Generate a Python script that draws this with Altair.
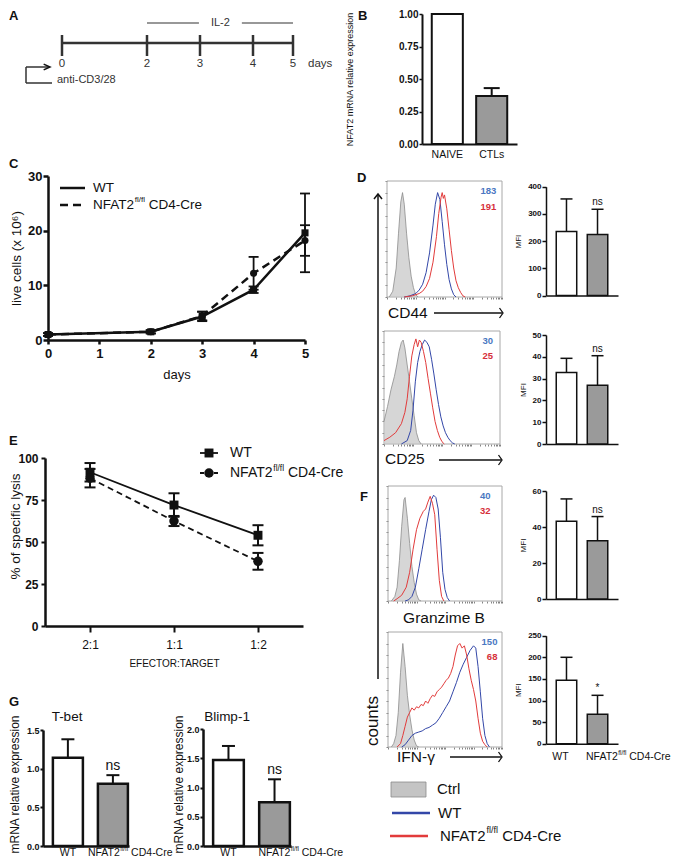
import math
import altair as alt
import pandas as pd

W, H = 664, 849
FONT = "Liberation Sans"
BLACK = "#111111"
GREY_BAR = "#9a9a9a"
BLUE = "#3347a8"
RED = "#e23b3b"
BLUE_TXT = "#4a78c2"
RED_TXT = "#d6303a"
CTRL_FILL = "#c4c4c4"
CTRL_LINE = "#8c8c8c"

# ---------------- data ----------------
timeline_days = [0, 2, 3, 4, 5]
il2_start = [2.0, 3.79]
il2_end = [2.98, 5.0]

b_cats = ["NAIVE", "CTLs"]
b_vals = [1.0, 0.37]
b_errs = [0.0, 0.06]

c_days = [0, 2, 3, 4, 5]
c_wt = [1.0, 1.5, 4.3, 9.2, 19.6]
c_wt_err = [0.25, 0.3, 0.85, 0.6, 7.2]
c_ko = [1.0, 1.5, 4.4, 12.2, 18.2]
c_ko_err = [0.25, 0.3, 0.8, 3.0, 2.8]

e_ratios = ["2:1", "1:1", "1:2"]
e_wt = [91.5, 72.0, 54.0]
e_wt_err = [5.5, 7.0, 6.0]
e_ko = [88.0, 62.5, 38.5]
e_ko_err = [5.5, 3.0, 5.0]

mfi_groups = ["WT", "KO"]
cd44_mfi = [235, 224]
cd44_err = [120, 93]
cd25_mfi = [32.8, 27.0]
cd25_err = [6.5, 13.5]
gzmb_mfi = [43.2, 32.3]
gzmb_err = [12.4, 13.5]
ifng_mfi = [147, 68]
ifng_err = [53, 44]
sig_ns = ["", "ns"]
sig_star = ["", "*"]

cd44_nums = [183, 191]
cd25_nums = [30, 25]
gzmb_nums = [40, 32]
ifng_nums = [150, 68]

cd44_ctrl = [(2,0),(5,5),(8,25),(10,55),(12,82),(13.5,90),(15,80),(17,55),(19,34),(21,18),(23,8),(25,2),(27,0)]
cd44_wt = [(15,0),(20,1),(25,3),(28,6),(31,11),(34,21),(37,38),(40,62),(42,80),(44,90),(46,84),(48,65),(50,45),(52,28),(54,15),(56,7),(58,2),(60,0)]
cd44_ko = [(15,0),(22,1),(28,3),(31,5),(34,9),(37,16),(40,30),(43,52),(45,72),(47,86),(48,90),(49,85),(50,88),(52,76),(54,58),(56,40),(58,25),(60,14),(62,8),(64,4),(66,1),(68,0)]

cd25_ctrl = [(0,20),(3,33),(6,48),(9,60),(11,70),(13,82),(15,90),(16.5,92),(18,85),(20,70),(22,55),(24,40),(26,25),(28,10),(30,3),(32,0)]
cd25_wt = [(15,0),(20,3),(23,12),(25,30),(27,55),(29,72),(31,82),(33,88),(35,92),(37,90),(39,86),(41,75),(43,62),(45,48),(47,35),(49,24),(51,16),(53,10),(55,6),(57,3),(59,1),(61,0)]
cd25_ko = [(0,3),(5,6),(10,10),(15,18),(18,28),(20,40),(22,60),(24,78),(26,88),(27.5,93),(29,86),(30.5,92),(32,90),(34,82),(36,72),(38,58),(40,45),(42,32),(44,20),(46,12),(48,6),(50,2),(52,0)]

gzmb_ctrl = [(3,0),(6,4),(8,12),(10,35),(12,65),(14,88),(15,90),(17,72),(19,50),(21,30),(23,16),(25,6),(27,1),(29,0)]
gzmb_wt = [(15,0),(18,1),(21,4),(24,12),(27,28),(30,45),(33,62),(36,78),(38,88),(40,92),(42,90),(44,80),(46,55),(48,25),(50,10),(52,3),(54,0)]
gzmb_ko = [(5,0),(8,2),(12,5),(16,12),(19,25),(22,45),(25,62),(28,72),(31,78),(33,80),(35,86),(37,91),(39,85),(41,75),(43,45),(45,18),(47,4),(49,0)]

ifng_ctrl = [(3,0),(5,3),(7,10),(9,30),(11,65),(13,90),(15,70),(17,45),(19,28),(21,15),(23,6),(25,1),(27,0)]
ifng_wt = [(12,0),(15,2),(18,6),(21,10),(24,12),(27,13),(30,14),(33,16),(36,17),(39,19),(42,21),(45,25),(48,30),(51,35),(54,40),(57,48),(60,56),(63,65),(66,72),(69,78),(72,84),(75,88),(77,86),(79,70),(81,48),(83,25),(85,10),(87,3),(89,0)]
ifng_ko = [(8,0),(11,3),(13,10),(15,18),(17,26),(19,30),(21,34),(23,32),(25,35),(27,34),(29,37),(31,36),(33,40),(35,38),(37,42),(39,45),(41,44),(43,48),(45,50),(47,52),(49,55),(51,58),(53,60),(55,64),(57,70),(59,80),(61,88),(63,90),(65,86),(67,88),(69,80),(71,68),(73,58),(75,50),(77,40),(79,25),(81,12),(83,5),(85,2),(87,0)]

g_groups = ["WT", "KO"]
g_tbet = [1.14, 0.806]
g_tbet_err = [0.24, 0.11]
g_blimp = [1.47, 0.75]
g_blimp_err = [0.24, 0.39]

# ---------------- helpers ----------------
ONE = pd.DataFrame({"k": [0]})
AW = {' ':278,'-':333,'/':278,':':278,'.':278,'A':667,'B':667,'C':722,'D':722,'E':667,'F':611,
      'G':778,'I':278,'L':556,'M':833,'N':722,'O':778,'R':722,'T':611,'W':944,'a':556,'b':556,
      'c':500,'d':556,'e':556,'f':278,'i':222,'l':222,'m':833,'n':556,'o':556,'p':556,'r':333,
      's':500,'t':278}


def tw(s, size):
    return sum(AW.get(ch, 556) for ch in s) * size / 1000.0


def txt(text, x, y, size, weight="normal", align="left", baseline="middle", angle=0, color=BLACK):
    return alt.Chart(ONE).mark_text(text=text, fontSize=size, fontWeight=weight, align=align,
                                    baseline=baseline, angle=angle, color=color, font=FONT
                                    ).encode(x=alt.value(x), y=alt.value(y))


def seg(x1, y1, x2, y2, width=1.5, color=BLACK, dash=None):
    kw = dict(color=color, strokeWidth=width)
    if dash:
        kw["strokeDash"] = dash
    return alt.Chart(ONE).mark_rule(**kw).encode(x=alt.value(x1), y=alt.value(y1),
                                                 x2=alt.value(x2), y2=alt.value(y2))


def head(x, y, path, size, width=1.5):
    return alt.Chart(ONE).mark_point(shape=path, size=size, filled=False, color=BLACK,
                                     strokeWidth=width, opacity=1).encode(x=alt.value(x), y=alt.value(y))


def sup_layers(chart, xenc, yenc, size, dx0=0.0, color=BLACK):
    ss = size * 0.6
    w1 = tw("NFAT2", size) - 1.0
    w2 = tw("fl/fl", ss)
    sp = tw(" ", size)
    out = []
    for text, fs, dx, dy in [("NFAT2", size, dx0, 0),
                             ("fl/fl", ss, dx0 + w1, -size * 0.38),
                             ("CD4-Cre", size, dx0 + w1 + w2 + sp, 0)]:
        out.append(chart.mark_text(text=text, fontSize=fs, dx=dx, dy=dy, align="left",
                                   baseline="middle", color=color, font=FONT).encode(x=xenc, y=yenc))
    return out


layers = []

# ---------------- panel letters ----------------
for letter, x, y in [("A", 1, 8), ("B", 350, 8), ("C", 1, 156), ("D", 349, 170),
                     ("E", 1, 433), ("F", 352, 489), ("G", 1, 694)]:
    layers.append(txt(letter, x, y, 13, weight="bold"))

# ---------------- panel A: timeline ----------------
days_scale = alt.Scale(domain=[0, 2, 4, 5], range=[54, 139, 245, 285], nice=False, zero=False)
df_days = pd.DataFrame({"day": timeline_days})
df_span = pd.DataFrame({"s": [timeline_days[0]], "e": [timeline_days[-1]]})
df_il2 = pd.DataFrame({"s": il2_start, "e": il2_end})
df_il2_lbl = pd.DataFrame({"pos": [(il2_end[0] + il2_start[1]) / 2], "lbl": ["IL-2"]})
panel_a = alt.layer(
    alt.Chart(df_span).mark_rule(color="#333333", strokeWidth=2.5).encode(
        x=alt.X("s:Q", scale=days_scale, axis=None), x2="e:Q", y=alt.value(35)),
    alt.Chart(df_days).mark_rule(color="#333333", strokeWidth=2.5).encode(
        x=alt.X("day:Q", scale=days_scale, axis=None), y=alt.value(27), y2=alt.value(48)),
    alt.Chart(df_days).mark_text(fontSize=11.5, baseline="middle", color="#333333").encode(
        x=alt.X("day:Q", scale=days_scale, axis=None), y=alt.value(56), text="day:Q"),
    alt.Chart(df_il2).mark_rule(color="#333333", strokeWidth=1.2).encode(
        x=alt.X("s:Q", scale=days_scale, axis=None), x2="e:Q", y=alt.value(15)),
    alt.Chart(df_il2_lbl).mark_text(fontSize=11, baseline="middle", color="#333333").encode(
        x=alt.X("pos:Q", scale=days_scale, axis=None), y=alt.value(15), text="lbl:N"),
)
layers.append(panel_a)
layers += [
    txt("days", 300, 56, 11.5, color="#333333"),
    seg(18, 59, 18, 75, 1.5, "#333333"),
    seg(18, 59, 41, 59, 1.5, "#333333"),
    seg(18, 75, 44, 75, 1.5, "#333333"),
    head(42, 59, "M-1,-0.45L0,0L-1,0.45", 160, 1.5),
    txt("anti-CD3/28", 49, 72, 11, color="#333333"),
]

# ---------------- panel B ----------------
df_b = pd.DataFrame({"cat": b_cats, "val": b_vals, "err": b_errs})
bbase = alt.Chart(df_b).transform_calculate(hi="datum.val + datum.err")
xb = alt.Scale(domain=b_cats, range=[414, 509], paddingInner=0.3, paddingOuter=0.22)
yb = alt.Scale(domain=[0, 1], range=[136, 6], nice=False, zero=True)
xb_axis = alt.Axis(orient="bottom", offset=136 - H, title=None, ticks=False, labelAngle=0,
                   labelFontSize=10.5, labelPadding=5, domainWidth=2)
yb_axis = alt.Axis(orient="left", offset=-414, values=[0, 0.25, 0.5, 0.75, 1.0], format=".2f",
                   title="NFAT2 mRNA relative expression", titleFontSize=9, titlePadding=44,
                   labelFontSize=10, labelFontWeight="bold", tickSize=3, labelPadding=1,
                   domainWidth=2, tickWidth=1.5)
BX = lambda: alt.X("cat:N", sort=b_cats, scale=xb, axis=xb_axis)
BY = lambda f: alt.Y(f, scale=yb, axis=yb_axis)
panel_b = alt.layer(
    bbase.mark_bar(stroke=BLACK, strokeWidth=2).encode(
        x=BX(), y=BY("val:Q"),
        fill=alt.condition(alt.datum.cat == "NAIVE", alt.value("white"), alt.value(GREY_BAR))),
    bbase.transform_filter(alt.datum.err > 0).mark_rule(color=BLACK, strokeWidth=2).encode(
        x=BX(), y=BY("val:Q"), y2="hi:Q"),
    bbase.transform_filter(alt.datum.err > 0).mark_tick(color=BLACK, thickness=2, size=16,
                                                        orient="horizontal", opacity=1).encode(
        x=BX(), y=BY("hi:Q")),
)
layers.append(panel_b)

# ---------------- panel C ----------------
df_c = pd.DataFrame({"day": c_days * 2, "val": c_wt + c_ko, "err": c_wt_err + c_ko_err,
                     "grp": ["WT"] * len(c_days) + ["KO"] * len(c_days)})
cbase = alt.Chart(df_c).transform_calculate(lo="datum.val - datum.err", hi="datum.val + datum.err")
xc = alt.Scale(domain=[0, 5], range=[40, 297], nice=False, zero=False)
yc = alt.Scale(domain=[0, 30], range=[332, 168], nice=False, zero=True)
xc_axis = alt.Axis(orient="bottom", offset=332 - H, values=[0, 1, 2, 3, 4, 5], title="days",
                   titleFontSize=13, titlePadding=8, labelFontSize=13, labelFontWeight="bold",
                   tickSize=4, labelPadding=3, domainWidth=2.5, tickWidth=2.5)
yc_axis = alt.Axis(orient="left", offset=-40, values=[0, 10, 20, 30], title="live cells (x 10⁶)",
                   titleFontSize=13.5, titlePadding=4, labelFontSize=13, labelFontWeight="bold",
                   tickSize=5, labelPadding=1, domainWidth=2.5, tickWidth=2.5)


def cx():
    return alt.X("day:Q", scale=xc, axis=xc_axis)


def cy(f):
    return alt.Y(f, scale=yc, axis=yc_axis)


wt_c = cbase.transform_filter(alt.datum.grp == "WT")
ko_c = cbase.transform_filter(alt.datum.grp == "KO")
panel_c = alt.layer(
    wt_c.mark_line(color=BLACK, strokeWidth=2.5).encode(x=cx(), y=cy("val:Q")),
    ko_c.mark_line(color=BLACK, strokeWidth=2.5, strokeDash=[8, 5]).encode(x=cx(), y=cy("val:Q")),
    cbase.mark_rule(color=BLACK, strokeWidth=1.8).encode(x=cx(), y=cy("lo:Q"), y2="hi:Q"),
    cbase.mark_tick(color=BLACK, thickness=1.8, size=10, orient="horizontal", opacity=1).encode(
        x=cx(), y=cy("lo:Q")),
    cbase.mark_tick(color=BLACK, thickness=1.8, size=10, orient="horizontal", opacity=1).encode(
        x=cx(), y=cy("hi:Q")),
    wt_c.mark_point(shape="square", filled=True, size=50, color=BLACK, opacity=1).encode(
        x=cx(), y=cy("val:Q")),
    ko_c.mark_point(shape="circle", filled=True, size=50, color=BLACK, opacity=1).encode(
        x=cx(), y=cy("val:Q")),
)
layers.append(panel_c)
layers += [
    seg(52, 180, 77, 180, 2.5),
    txt("WT", 85, 180, 13.5),
    seg(52, 197, 77, 197, 2.5, dash=[8, 5]),
]
layers += sup_layers(alt.Chart(ONE), alt.value(85), alt.value(197), 13.5)

# ---------------- panel E ----------------
df_e = pd.DataFrame({"ratio": e_ratios * 2, "val": e_wt + e_ko, "err": e_wt_err + e_ko_err,
                     "grp": ["WT"] * 3 + ["KO"] * 3})
ebase = alt.Chart(df_e).transform_calculate(lo="datum.val - datum.err", hi="datum.val + datum.err")
xe = alt.Scale(type="point", domain=e_ratios, range=[37, 295], padding=0.536)
ye = alt.Scale(domain=[0, 100], range=[618, 450], nice=False, zero=True)
xe_axis = alt.Axis(orient="bottom", offset=618 - H, title="EFECTOR:TARGET", titleFontSize=10,
                   titlePadding=8, labelFontSize=12, labelAngle=0, tickSize=6, labelPadding=7,
                   domainWidth=2.5, tickWidth=2)
ye_axis = alt.Axis(orient="left", offset=-37, values=[0, 25, 50, 75, 100],
                   title="% of specific lysis", titleFontSize=13.5, titlePadding=-5, titleY=518,
                   labelFontSize=12, labelFontWeight="bold", tickSize=4, labelPadding=3,
                   domainWidth=2.5, tickWidth=2)


def ex():
    return alt.X("ratio:N", sort=e_ratios, scale=xe, axis=xe_axis)


def ey(f):
    return alt.Y(f, scale=ye, axis=ye_axis)


wt_e = ebase.transform_filter(alt.datum.grp == "WT")
ko_e = ebase.transform_filter(alt.datum.grp == "KO")
panel_e = alt.layer(
    wt_e.mark_line(color=BLACK, strokeWidth=1.8).encode(x=ex(), y=ey("val:Q")),
    ko_e.mark_line(color=BLACK, strokeWidth=1.8, strokeDash=[6, 4]).encode(x=ex(), y=ey("val:Q")),
    ebase.mark_rule(color=BLACK, strokeWidth=2).encode(x=ex(), y=ey("lo:Q"), y2="hi:Q"),
    ebase.mark_tick(color=BLACK, thickness=2, size=11, orient="horizontal", opacity=1).encode(
        x=ex(), y=ey("lo:Q")),
    ebase.mark_tick(color=BLACK, thickness=2, size=11, orient="horizontal", opacity=1).encode(
        x=ex(), y=ey("hi:Q")),
    wt_e.mark_point(shape="square", filled=True, size=80, color=BLACK, opacity=1).encode(
        x=ex(), y=ey("val:Q")),
    ko_e.mark_point(shape="circle", filled=True, size=90, color=BLACK, opacity=1).encode(
        x=ex(), y=ey("val:Q")),
)
layers.append(panel_e)
layers += [
    seg(192, 445, 210, 445, 1.8),
    alt.Chart(ONE).mark_point(shape="square", filled=True, size=80, color=BLACK, opacity=1).encode(
        x=alt.value(201), y=alt.value(445)),
    txt("WT", 222, 445, 14),
    seg(192, 465, 210, 465, 1.8, dash=[4, 3]),
    alt.Chart(ONE).mark_point(shape="circle", filled=True, size=90, color=BLACK, opacity=1).encode(
        x=alt.value(201), y=alt.value(465)),
]
layers += sup_layers(alt.Chart(ONE), alt.value(222), alt.value(465), 14)

# ---------------- histograms (D, F) ----------------
LOGTICKS = [25 * d + 25 * math.log10(k) for d in range(4) for k in range(1, 10)] + [100]


def hist(box, ctrl, wt, ko, nums, numx):
    x0, x1, yt, yb_ = box
    xs = alt.Scale(domain=[0, 100], range=[x0, x1], nice=False, zero=False)
    ys = alt.Scale(domain=[0, 100], range=[yb_, yt], nice=False, zero=False)
    xa = alt.Axis(orient="bottom", offset=yb_ - H, values=LOGTICKS, labels=False, title=None,
                  domain=False, tickSize=2, tickColor="#666666", tickWidth=0.8)
    ya = alt.Axis(orient="left", offset=-x0, values=list(range(0, 101, 10)), labels=False,
                  title=None, domain=False, tickSize=2, tickColor="#666666", tickWidth=0.8)
    dfc = pd.DataFrame(ctrl, columns=["x", "y"])
    dfw = pd.DataFrame(wt, columns=["x", "y"])
    dfk = pd.DataFrame(ko, columns=["x", "y"])
    frame = pd.DataFrame({"a": [0], "b": [100]})
    X = lambda f="x:Q": alt.X(f, scale=xs, axis=xa)
    Y = lambda f="y:Q": alt.Y(f, scale=ys, axis=ya)
    return alt.layer(
        alt.Chart(frame).mark_rect(fillOpacity=0, stroke="#a8a8a8", strokeWidth=1).encode(
            x=X("a:Q"), x2="b:Q", y=Y("a:Q"), y2="b:Q"),
        alt.Chart(dfc).mark_area(fill=CTRL_FILL, line={"color": CTRL_LINE, "strokeWidth": 0.8}).encode(
            x=X(), y=Y()),
        alt.Chart(dfw).mark_line(color=BLUE, strokeWidth=1).encode(x=X(), y=Y()),
        alt.Chart(dfk).mark_line(color=RED, strokeWidth=1).encode(x=X(), y=Y()),
        alt.Chart(ONE).mark_text(text=str(nums[0]), fontSize=9.5, fontWeight="bold", align="right",
                                 baseline="middle", color=BLUE_TXT).encode(
            x=alt.XDatum(numx, scale=xs, axis=xa), y=alt.YDatum(91, scale=ys, axis=ya)),
        alt.Chart(ONE).mark_text(text=str(nums[1]), fontSize=9.5, fontWeight="bold", align="right",
                                 baseline="middle", color=RED_TXT).encode(
            x=alt.XDatum(numx, scale=xs, axis=xa), y=alt.YDatum(78, scale=ys, axis=ya)),
    )


layers.append(hist((379, 494, 173, 289), cd44_ctrl, cd44_wt, cd44_ko, cd44_nums, 95))
layers.append(hist((376, 492, 323, 436), cd25_ctrl, cd25_wt, cd25_ko, cd25_nums, 94))
layers.append(hist((380, 494, 478, 593), gzmb_ctrl, gzmb_wt, gzmb_ko, gzmb_nums, 90))
layers.append(hist((380, 494, 624, 739), ifng_ctrl, ifng_wt, ifng_ko, ifng_nums, 96))

ARROW_R = "M-0.7,-1L0,0L-0.7,1"
layers += [
    txt("CD44", 380, 305, 15.5),
    seg(426, 305, 494, 305, 1.3),
    head(495, 305, ARROW_R, 100, 1.3),
    txt("CD25", 377, 451, 15.5),
    seg(431, 452, 493, 452, 1.3),
    head(494, 452, ARROW_R, 100, 1.3),
    txt("Granzime B", 436, 610, 15.5, align="center"),
    txt("IFN-γ", 389, 749, 15.5),
    seg(442, 749, 493, 749, 1.3),
    head(494, 749, ARROW_R, 100, 1.3),
    seg(370, 187, 370, 671, 1.5),
    head(370, 186, "M-0.8,1L0,0L0.8,1", 100, 1.5),
    txt("counts", 365, 713, 17, align="center", angle=270),
    # legend for flow plots
    alt.Chart(ONE).mark_rect(fill=CTRL_FILL, stroke=CTRL_LINE, strokeWidth=0.8).encode(
        x=alt.value(383), x2=alt.value(418), y=alt.value(774), y2=alt.value(789)),
    txt("Ctrl", 429, 781, 15),
    seg(384, 805, 422, 805, 2.5, BLUE),
    txt("WT", 430, 805, 15),
    seg(382, 828, 420, 828, 2.5, RED),
]
layers += sup_layers(alt.Chart(ONE), alt.value(432), alt.value(828), 15)


# ---------------- MFI bar charts ----------------
def mfi_panel(vals, errs, sigs, yr, ymax, step, labels=False):
    df = pd.DataFrame({"grp": mfi_groups, "val": vals, "err": errs, "sig": sigs})
    base = alt.Chart(df).transform_calculate(hi="datum.val + datum.err")
    xs = alt.Scale(domain=mfi_groups, range=[538, 610], paddingInner=0.34, paddingOuter=0.33)
    ys = alt.Scale(domain=[0, ymax], range=[yr[0], yr[1]], nice=False, zero=True)
    xa = alt.Axis(orient="bottom", offset=yr[0] - H, title=None, labels=False, ticks=False,
                  domainWidth=1.5)
    ya = alt.Axis(orient="left", offset=-538, values=list(range(0, ymax + 1, step)), title="MFI",
                  titleFontSize=8, titlePadding=5, labelFontSize=8, labelFontWeight="bold",
                  tickSize=4, labelPadding=1, domainWidth=1.5, tickWidth=1.5)
    X = lambda: alt.X("grp:N", sort=mfi_groups, scale=xs, axis=xa)
    Y = lambda f: alt.Y(f, scale=ys, axis=ya)
    ls = [
        base.mark_bar(stroke=BLACK, strokeWidth=1.5).encode(
            x=X(), y=Y("val:Q"),
            fill=alt.condition(alt.datum.grp == "WT", alt.value("white"), alt.value(GREY_BAR))),
        base.mark_rule(color=BLACK, strokeWidth=1.5).encode(x=X(), y=Y("val:Q"), y2="hi:Q"),
        base.mark_tick(color=BLACK, thickness=1.5, size=12, orient="horizontal", opacity=1).encode(
            x=X(), y=Y("hi:Q")),
        base.mark_text(fontSize=10, dy=-4, baseline="alphabetic", color=BLACK).encode(
            x=X(), y=Y("hi:Q"), text="sig:N"),
    ]
    if labels:
        ls.append(base.transform_filter(alt.datum.grp == "WT").mark_text(
            text="WT", fontSize=10.5, dx=-6, baseline="middle", color=BLACK).encode(
            x=X(), y=alt.value(749)))
        ls += sup_layers(base.transform_filter(alt.datum.grp == "KO"), X(), alt.value(749), 10.5,
                         dx0=-11.5)
    return alt.layer(*ls)


layers.append(mfi_panel(cd44_mfi, cd44_err, sig_ns, (287.5, 178.7), 400, 100))
layers.append(mfi_panel(cd25_mfi, cd25_err, sig_ns, (436, 327), 50, 10))
layers.append(mfi_panel(gzmb_mfi, gzmb_err, sig_ns, (591, 483), 60, 20))
layers.append(mfi_panel(ifng_mfi, ifng_err, sig_star, (735.7, 627.7), 250, 50, labels=True))


# ---------------- panel G ----------------
def g_panel(vals, errs, title, xr, ymax, ytop, yvals, tx, title_pad, ko_dx):
    df = pd.DataFrame({"grp": g_groups, "val": vals, "err": errs, "sig": ["", "ns"]})
    base = alt.Chart(df).transform_calculate(hi="datum.val + datum.err")
    xs = alt.Scale(domain=g_groups, range=xr, paddingInner=1 / 3, paddingOuter=0.122, align=0.9)
    ys = alt.Scale(domain=[0, ymax], range=[838, ytop], nice=False, zero=True)
    xa = alt.Axis(orient="bottom", offset=838 - H, title=None, labels=False, ticks=False,
                  domainWidth=2.5)
    ya = alt.Axis(orient="left", offset=-xr[0], values=yvals, format=".1f",
                  title="mRNA relative expression", titleFontSize=12, titlePadding=title_pad,
                  titleY=776, labelFontSize=9, labelFontWeight="bold", tickSize=3, labelPadding=1,
                  domainWidth=2.5, tickWidth=2)
    X = lambda: alt.X("grp:N", sort=g_groups, scale=xs, axis=xa)
    Y = lambda f: alt.Y(f, scale=ys, axis=ya)
    ls = [
        base.mark_bar(stroke=BLACK, strokeWidth=2.5).encode(
            x=X(), y=Y("val:Q"),
            fill=alt.condition(alt.datum.grp == "WT", alt.value("white"), alt.value(GREY_BAR))),
        base.mark_rule(color=BLACK, strokeWidth=2).encode(x=X(), y=Y("val:Q"), y2="hi:Q"),
        base.mark_tick(color=BLACK, thickness=2, size=13, orient="horizontal", opacity=1).encode(
            x=X(), y=Y("hi:Q")),
        base.mark_text(fontSize=14, dy=-5, baseline="alphabetic", color=BLACK).encode(
            x=X(), y=Y("hi:Q"), text="sig:N"),
        base.transform_filter(alt.datum.grp == "WT").mark_text(
            text="WT", fontSize=10.5, baseline="middle", color=BLACK).encode(
            x=X(), y=alt.value(845)),
    ]
    ls += sup_layers(base.transform_filter(alt.datum.grp == "KO"), X(), alt.value(845), 10.5,
                     dx0=ko_dx)
    return alt.layer(*ls), txt(title, tx, 709, 13.5, align="center")


gp1, gt1 = g_panel(g_tbet, g_tbet_err, "T-bet", [35, 121], 1.5, 722, [0, 0.5, 1.0, 1.5], 59, 4.5, -25)
gp2, gt2 = g_panel(g_blimp, g_blimp_err, "Blimp-1", [195, 283], 2.0, 721, [0, 0.5, 1.0, 1.5, 2.0], 219, 1, -16)
layers += [gp1, gt1, gp2, gt2]

chart = alt.layer(*layers).resolve_scale(x="independent", y="independent").properties(
    width=W, height=H, padding=0, background="white",
    autosize=alt.AutoSizeParams(type="none"),
).configure_view(stroke=None).configure_axis(
    grid=False, domainColor=BLACK, tickColor=BLACK, labelColor=BLACK, titleColor=BLACK,
    labelFont=FONT, titleFont=FONT, titleFontWeight="normal", labelFlush=False, labelOverlap=False,
).configure_text(font=FONT)

chart.save("out.html", embed_options={"renderer": "svg", "actions": False})
